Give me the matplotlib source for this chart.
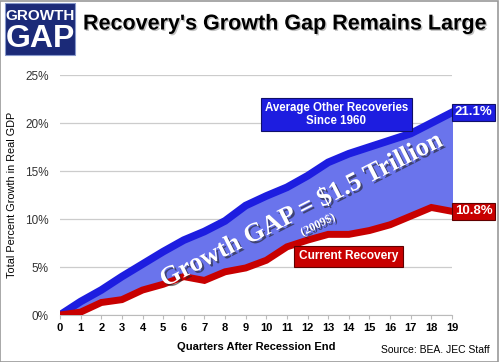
import numpy as np
import matplotlib
matplotlib.use('Agg')
import matplotlib.pyplot as plt
import matplotlib.patheffects as pe
from matplotlib.patches import Rectangle

# quarters after recession end
quarters = list(range(0, 20))
# total percent growth in real GDP
avg_other = [0.0, 1.4, 2.6, 4.0, 5.3, 6.6, 7.8, 8.7, 9.8, 11.4,
             12.4, 13.3, 14.5, 15.9, 16.8, 17.5, 18.2, 18.9, 20.0, 21.1]
current = [0.0, 0.3, 1.3, 1.6, 2.6, 3.2, 4.0, 3.6, 4.5, 4.9,
           5.7, 7.1, 7.8, 8.4, 8.4, 8.8, 9.4, 10.3, 11.2, 10.8]
yticks = [0, 5, 10, 15, 20, 25]

blue = '#1d1de0'
fill_blue = '#6a74ec'
red = '#c80000'

plt.rcParams['font.family'] = ['Liberation Sans', 'DejaVu Sans']

fig = plt.figure(figsize=(4.99, 3.62), dpi=100)
fig.patch.set_facecolor('white')
ax = fig.add_axes([60/499, 1-315/362, 392/499, 240/362])

ax.fill_between(quarters, current, avg_other, color=fill_blue, zorder=2)
ax.plot(quarters, avg_other, color=blue, lw=5.5, solid_joinstyle='miter', zorder=3)
ax.plot(quarters, current, color=red, lw=5, solid_joinstyle='miter', zorder=3)

ax.set_xlim(0, 19)
ax.set_ylim(0, 25)
ax.set_xticks(quarters)
ax.set_xticklabels([str(q) for q in quarters], fontweight='bold', fontsize=8)
ax.set_yticks(yticks)
ax.set_yticklabels([f'{v}%' for v in yticks], fontsize=8.5, color='#333333')
ax.grid(axis='y', color='#cccccc', lw=0.9)
ax.set_axisbelow(True)
for s in ['top', 'right', 'left']:
    ax.spines[s].set_visible(False)
ax.spines['bottom'].set_color('#bbbbbb')
ax.tick_params(axis='x', length=3, color='#bbbbbb', pad=3)
ax.tick_params(axis='y', length=0, pad=8)
ax.set_xlabel('Quarters After Recession End', fontsize=8, fontweight='bold', labelpad=6)
ax.set_ylabel('Total Percent Growth in Real GDP', fontsize=7.8, labelpad=6)

shadow = [pe.withSimplePatchShadow(offset=(1.5, -1.5), shadow_rgbFace='#222222', alpha=0.6)]

# end labels
ax.annotate(f'{avg_other[-1]}%', xy=(quarters[-1], avg_other[-1]), xytext=(15.5, 0),
            textcoords='offset points', ha='center', va='center', color='white',
            fontsize=9.5, fontweight='bold', annotation_clip=False,
            bbox=dict(boxstyle='square,pad=0.2', fc=blue, ec='#10106a', lw=0.8))
ax.annotate(f'{current[-1]}%', xy=(quarters[-1], current[-1]), xytext=(15.5, 0),
            textcoords='offset points', ha='center', va='center', color='white',
            fontsize=9.5, fontweight='bold', annotation_clip=False,
            bbox=dict(boxstyle='square,pad=0.2', fc=red, ec='#600000', lw=0.8))

ax.text(13.4, 20.9, 'Average Other Recoveries\nSince 1960', ha='center', va='center',
        color='white', fontsize=8.3, fontweight='bold', linespacing=1.15, zorder=5,
        bbox=dict(boxstyle='square,pad=0.35', fc=blue, ec='#10106a', lw=0.8))
ax.text(14.0, 6.1, 'Current Recovery', ha='center', va='center',
        color='white', fontsize=8.6, fontweight='bold', zorder=5,
        bbox=dict(boxstyle='square,pad=0.4', fc=red, ec='#600000', lw=0.8))

ax.text(11.7, 10.9, 'Growth GAP = $1.5 Trillion', ha='center', va='center',
        rotation=27, rotation_mode='anchor', color='white', fontsize=19,
        fontweight='bold', family='Liberation Serif', zorder=6, path_effects=shadow)
ax.text(12.5, 9.4, '(2009$)', ha='center', va='center',
        rotation=27, rotation_mode='anchor', color='white', fontsize=8.5,
        fontweight='bold', family='Liberation Serif', zorder=6, path_effects=shadow)

# header
fig.add_artist(Rectangle((5/499, 1-55/362), 70/499, 52/362, transform=fig.transFigure,
                         fc='#1b2a78', ec='#8899cc', lw=0.8))
fig.text(40/499, 1-16/362, 'GROWTH', ha='center', va='center', color='white',
         fontsize=11, fontweight='bold')
fig.text(40/499, 1-39/362, 'GAP', ha='center', va='center', color='white',
         fontsize=23, fontweight='bold')
fig.text(83/499, 1-24/362, "Recovery's Growth Gap Remains Large", ha='left', va='center',
         fontsize=15.5, fontweight='bold',
         path_effects=[pe.withSimplePatchShadow(offset=(1, -1), shadow_rgbFace='#888888', alpha=0.5)])

fig.text(490/499, 1-350/362, 'Source: BEA. JEC Staff', ha='right', va='center', fontsize=7.5)

fig.add_artist(Rectangle((0.001, 0.001), 0.997, 0.997, transform=fig.transFigure,
                         fill=False, ec='#999999', lw=1.2))

fig.savefig('out.png', dpi=100)
